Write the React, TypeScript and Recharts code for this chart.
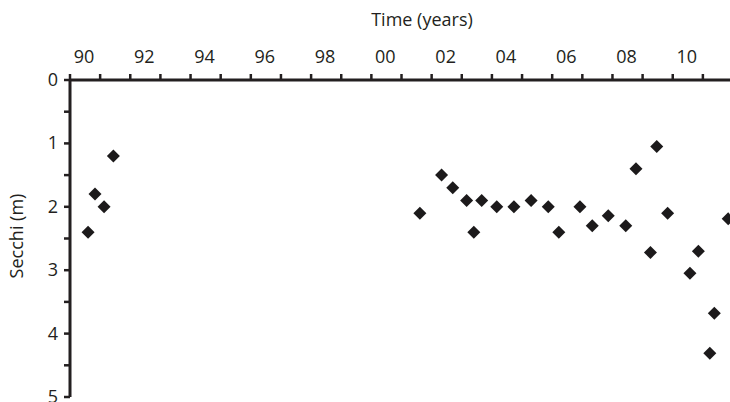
import React from "react";
import { Label, Scatter, ScatterChart, XAxis, YAxis } from "recharts";

const years = [
  1990.6, 1990.83, 1991.13, 1991.44, 2001.61, 2002.33, 2002.7, 2003.16, 2003.4, 2003.66,
  2004.16, 2004.73, 2005.3, 2005.87, 2006.22, 2006.92, 2007.33, 2007.86, 2008.44, 2008.78,
  2009.26, 2009.47, 2009.83, 2010.57, 2010.85, 2011.23, 2011.38, 2011.84,
];
const secchi = [
  2.4, 1.8, 2.0, 1.2, 2.1, 1.5, 1.7, 1.9, 2.4, 1.9,
  2.0, 2.0, 1.9, 2.0, 2.4, 2.0, 2.3, 2.14, 2.3, 1.4,
  2.72, 1.05, 2.1, 3.05, 2.7, 4.31, 3.68, 2.19,
];
const xTicks = [
  1990, 1991, 1992, 1993, 1994, 1995, 1996, 1997, 1998, 1999, 2000,
  2001, 2002, 2003, 2004, 2005, 2006, 2007, 2008, 2009, 2010, 2011,
];
const yTicks = [0, 0.5, 1, 1.5, 2, 2.5, 3, 3.5, 4, 4.5, 5];

const data = years.map((year, i) => ({ year, secchi: secchi[i] }));

const INK = "#231f20";
const FONT = "'Open Sans', sans-serif";

const XTick = (props: any) => {
  const { x, y, payload } = props;
  const v = payload.value as number;
  const showLabel = v % 2 === 0;
  return (
    <g>
      <line x1={x} x2={x} y1={y} y2={y - 6} stroke={INK} strokeWidth={2.5} />
      {showLabel && (
        <text x={x + 14} y={y - 17} textAnchor="middle" fill={INK} fontSize={18} fontFamily={FONT}>
          {String(v % 100).padStart(2, "0")}
        </text>
      )}
    </g>
  );
};

const YTick = (props: any) => {
  const { x, y, payload } = props;
  const v = payload.value as number;
  return (
    <g>
      <line x1={x} x2={x - 6} y1={y} y2={y} stroke={INK} strokeWidth={2.5} />
      {Number.isInteger(v) && (
        <text x={x - 12} y={y + 6} textAnchor="end" fill={INK} fontSize={18} fontFamily={FONT}>
          {v}
        </text>
      )}
    </g>
  );
};

const Diamond = (props: any) => {
  const { cx, cy } = props;
  const r = 6.5;
  return (
    <polygon
      points={`${cx},${cy - r} ${cx + r},${cy} ${cx},${cy + r} ${cx - r},${cy}`}
      fill="#1c1a1b"
    />
  );
};

export default function App() {
  return (
    <div style={{ position: "absolute", left: 0, top: 0 }}>
      <ScatterChart width={730} height={402} margin={{ top: 0, right: 0, bottom: 5, left: 0 }}>
        <XAxis
          type="number"
          dataKey="year"
          orientation="top"
          domain={[1990, 2011.9]}
          ticks={xTicks}
          interval={0}
          height={80}
          tickSize={0}
          tickMargin={0}
          tickLine={false}
          tick={<XTick />}
          axisLine={{ stroke: INK, strokeWidth: 3 }}
        >
          <Label
            content={() => (
              <text x={422} y={26} textAnchor="middle" fill={INK} fontSize={18} fontFamily={FONT}>
                Time (years)
              </text>
            )}
          />
        </XAxis>
        <YAxis
          type="number"
          dataKey="secchi"
          domain={[0, 5]}
          reversed
          ticks={yTicks}
          interval={0}
          width={70}
          tickSize={0}
          tickMargin={0}
          tickLine={false}
          tick={<YTick />}
          axisLine={{ stroke: INK, strokeWidth: 3 }}
        >
          <Label
            content={() => (
              <text
                x={23}
                y={236}
                textAnchor="middle"
                fill={INK}
                fontSize={18}
                fontFamily={FONT}
                transform="rotate(-90 23 236)"
              >
                Secchi (m)
              </text>
            )}
          />
        </YAxis>
        <Scatter data={data} shape={<Diamond />} isAnimationActive={false} />
      </ScatterChart>
    </div>
  );
}
